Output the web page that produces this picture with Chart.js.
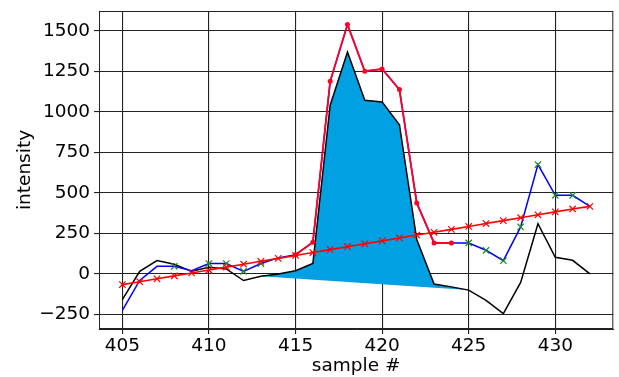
<!DOCTYPE html>
<html>
<head>
<meta charset="utf-8">
<script src="https://cdn.jsdelivr.net/npm/chart.js@4"></script>
<style>
  html, body { margin: 0; padding: 0; background: #fff; }
  canvas { display: block; }
</style>
</head>
<body>
<canvas id="chart" width="619" height="377"></canvas>
<script>
// data
const samples = [405, 406, 407, 408, 409, 410, 411, 412, 413, 414, 415, 416, 417, 418,
  419, 420, 421, 422, 423, 424, 425, 426, 427, 428, 429, 430, 431, 432];
const signal = [-225, -40, 47, 47, 20, 64, 64, 16, 64, 99, 119, 195, 1189, 1539,
  1251, 1265, 1138, 438, 191, 191, 191, 146, 82, 290, 675, 485, 485, 417];
const corrected = [-159, 16, 82, 60, 16, 41, 31, -41, -15, 0, 20, 64, 1041, 1370,
  1072, 1062, 921, 212, -62, -80, -100, -163, -245, -52, 310, 103, 84, 0];
const baselineFit = [-66, -48, -30, -12, 6, 24, 42, 60, 78, 96, 114, 132, 150, 168,
  186, 204, 222, 240, 257, 275, 293, 311, 329, 347, 365, 383, 401, 417];
const baselinePts = [408, 410, 411, 412, 413, 425, 426, 427, 428, 429, 430, 431];
const peakStart = 415, peakEnd = 424;
const areaStart = 413, areaEnd = 425;
const xTicks = [405, 410, 415, 420, 425, 430];
const yTicks = [-250, 0, 250, 500, 750, 1000, 1250, 1500];

const pts = (ys) => samples.map((x, i) => ({ x: x, y: ys[i] }));
const between = (ys, a, b) => pts(ys).filter((p) => p.x >= a && p.x <= b);
const areaTop = between(corrected, areaStart, areaEnd);
const areaBase = [areaTop[0], areaTop[areaTop.length - 1]];

const font = { family: "DejaVu Sans", size: 18.5 };

// box around the plot like matplotlib spines
const frame = {
  id: "frame",
  afterDraw(chart) {
    const { ctx, chartArea: a } = chart;
    ctx.save();
    ctx.strokeStyle = "#222";
    ctx.lineWidth = 1;
    ctx.strokeRect(a.left + 0.5, a.top + 0.5, a.right - a.left - 1, a.bottom - a.top - 1);
    ctx.restore();
  },
};

new Chart(document.getElementById("chart"), {
  type: "line",
  data: {
    datasets: [
      {
        // linear baseline
        data: pts(baselineFit),
        borderColor: "#ff0000",
        borderWidth: 1.6,
        pointStyle: "crossRot",
        pointRadius: 4.5,
        pointBorderColor: "#ff0000",
        pointBorderWidth: 1.2,
        fill: false,
      },
      {
        // peak region
        data: between(signal, peakStart, peakEnd),
        borderColor: "#ff0022",
        borderWidth: 1.8,
        pointStyle: "circle",
        pointRadius: 2.5,
        pointBackgroundColor: "#ff0022",
        pointBorderWidth: 0,
        fill: false,
      },
      {
        // raw signal
        data: pts(signal),
        borderColor: "#0000ff",
        borderWidth: 1.5,
        pointStyle: "crossRot",
        pointRadius: (c) => (baselinePts.includes(c.raw.x) ? 4.5 : 0),
        pointBorderColor: "#1a8a1a",
        pointBorderWidth: 1.2,
        fill: false,
      },
      {
        // baseline-corrected signal
        data: pts(corrected),
        borderColor: "#000000",
        borderWidth: 1.5,
        pointRadius: 0,
        fill: false,
      },
      {
        // area top
        data: areaTop,
        borderWidth: 0,
        pointRadius: 0,
        backgroundColor: "#00a0e3",
        fill: { target: 5 },
      },
      {
        // area bottom
        data: areaBase,
        borderWidth: 0,
        pointRadius: 0,
        fill: false,
      },
    ],
  },
  options: {
    responsive: false,
    animation: false,
    layout: { padding: { top: 11, right: 2, left: 0, bottom: 0 } },
    plugins: { legend: { display: false }, tooltip: { enabled: false } },
    scales: {
      x: {
        type: "linear",
        min: 403.65,
        max: 433.35,
        afterBuildTicks: (s) => { s.ticks = xTicks.map((v) => ({ value: v })); },
        afterFit: (s) => { s.height = 48; s.paddingLeft = 0; s.paddingRight = 0; },
        ticks: { color: "#000", font: font, padding: 1, maxRotation: 0 },
        grid: { color: "#222", lineWidth: 1.1, tickLength: 5, tickColor: "#222" },
        border: { color: "#222", width: 1 },
        title: { display: true, text: "sample #", color: "#000", font: font, padding: { top: 0, bottom: 0 } },
      },
      y: {
        min: -340,
        max: 1623,
        afterBuildTicks: (s) => { s.ticks = yTicks.map((v) => ({ value: v })); },
        afterFit: (s) => { s.width = 99; s.paddingTop = 0; s.paddingBottom = 0; },
        ticks: {
          color: "#000",
          font: font,
          padding: 4,
          callback: (v) => (v < 0 ? "\u2212" + Math.abs(v) : String(v)),
        },
        grid: { color: "#222", lineWidth: 1.1, tickLength: 5, tickColor: "#222" },
        border: { color: "#222", width: 1 },
        title: { display: true, text: "intensity", color: "#000", font: font, padding: { top: 14, bottom: 0 } },
      },
    },
  },
  plugins: [frame],
});
</script>
</body>
</html>
